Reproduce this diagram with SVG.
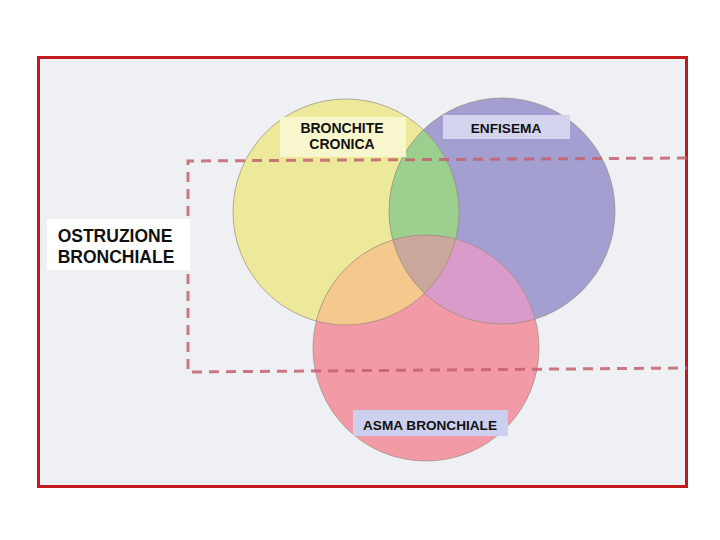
<svg xmlns="http://www.w3.org/2000/svg" width="720" height="540" viewBox="0 0 720 540">
<style>
.lbl{font-family:"Liberation Sans",Arial,sans-serif;font-weight:bold;fill:#111;text-anchor:middle}
.edge{fill:none;stroke:#9a8a80;stroke-width:1;stroke-opacity:0.7}
</style>
<defs>
<clipPath id="cY"><circle cx="346" cy="212" r="113"/></clipPath>
<clipPath id="cP"><circle cx="502" cy="211" r="113"/></clipPath>
<clipPath id="cR"><circle cx="426" cy="348" r="113"/></clipPath>
</defs>
<rect x="0" y="0" width="720" height="540" fill="#ffffff"/>
<rect x="38.5" y="57.5" width="648" height="429" fill="#eef0f4" stroke="#c01a1e" stroke-width="3"/>
<g id="circles">
<g id="bronchite"><circle cx="346" cy="212" r="113" fill="#ecea9a"/></g>
<g id="enfisema"><circle cx="502" cy="211" r="113" fill="#a39fd0"/></g>
<g id="asma"><circle cx="426" cy="348" r="113" fill="#f29aa6"/></g>
<g clip-path="url(#cY)"><circle cx="502" cy="211" r="113" fill="#9cd08e"/></g>
<g clip-path="url(#cY)"><circle cx="426" cy="348" r="113" fill="#f5c88e"/></g>
<g clip-path="url(#cP)"><circle cx="426" cy="348" r="113" fill="#d99bc9"/></g>
<g clip-path="url(#cY)"><g clip-path="url(#cP)"><circle cx="426" cy="348" r="113" fill="#c9a79a"/></g></g>
<circle class="edge" cx="346" cy="212" r="113"/>
<circle class="edge" cx="502" cy="211" r="113"/>
<circle class="edge" cx="426" cy="348" r="113"/>
</g>
<g id="connectors">
<polyline points="687,158 188,161 188,372 687,368" fill="none" stroke="#c4606e" stroke-width="3" stroke-dasharray="10,7" stroke-opacity="0.85"/>
</g>
<g id="label-bronchite">
<rect x="280" y="117" width="126" height="40" fill="#f8f6cc"/>
<text class="lbl" x="342" y="133" font-size="14">BRONCHITE</text>
<text class="lbl" x="342" y="149" font-size="14">CRONICA</text>
</g>
<g id="label-enfisema">
<rect x="443" y="115" width="127" height="24" fill="#d4d4ee"/>
<text class="lbl" x="506" y="133" font-size="13.7">ENFISEMA</text>
</g>
<g id="label-ostruzione">
<rect x="47" y="219" width="143" height="51" fill="#ffffff"/>
<text class="lbl" x="115" y="242" font-size="17.5">OSTRUZIONE</text>
<text class="lbl" x="116" y="263" font-size="17.5">BRONCHIALE</text>
</g>
<g id="label-asma">
<rect x="353" y="410" width="155" height="26" fill="#ccd0ee"/>
<text class="lbl" x="430" y="430" font-size="13.6">ASMA BRONCHIALE</text>
</g>
</svg>
